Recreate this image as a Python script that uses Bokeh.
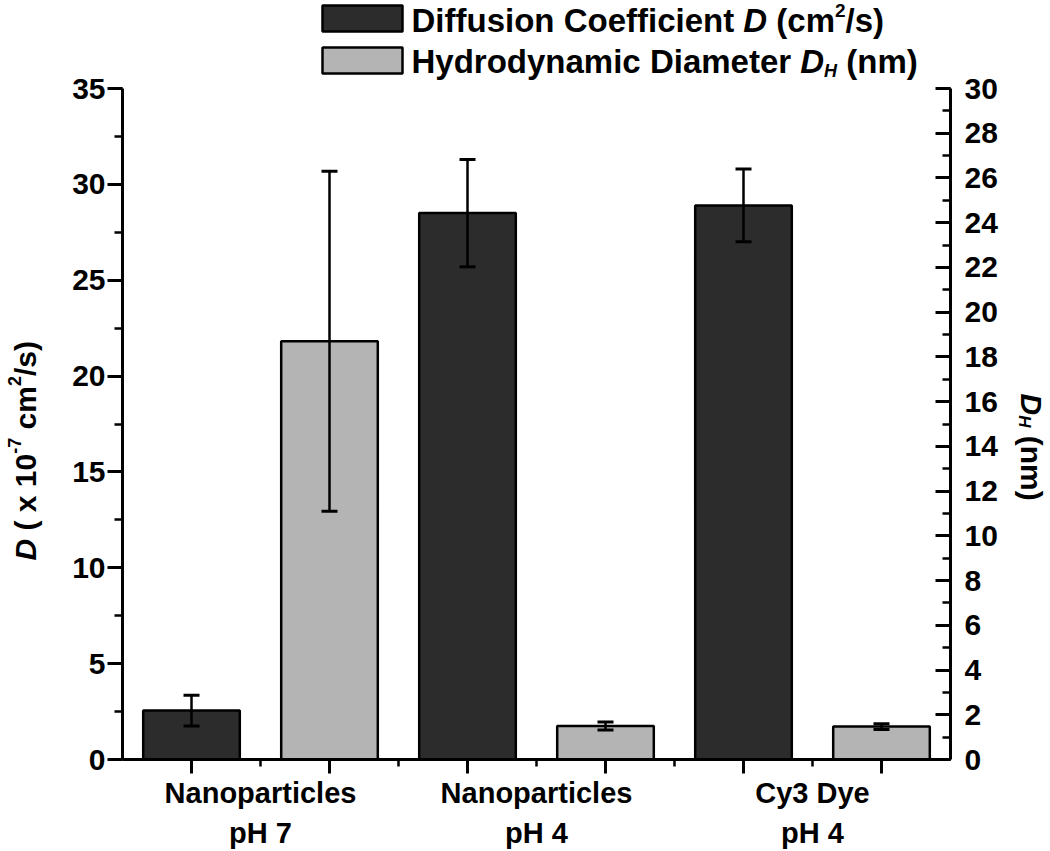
import math
from bokeh.plotting import figure
from bokeh.layouts import row, column
from bokeh.models import (Range1d, LinearAxis, FixedTicker, Whisker, TeeHead,
                          ColumnDataSource, Label)
from bokeh.embed import file_html
from bokeh.resources import INLINE

# ---------------- data ----------------
group_line1 = ["Nanoparticles", "Nanoparticles", "Cy3 Dye"]
group_line2 = ["pH 7", "pH 4", "pH 4"]
D_values = [2.55, 28.5, 28.9]          # x 10^-7 cm^2/s (left axis)
D_errors = [0.8, 2.8, 1.9]
DH_values = [18.7, 1.5, 1.47]          # nm (right axis)
DH_errors = [7.6, 0.18, 0.13]
left_ticks = [0, 5, 10, 15, 20, 25, 30, 35]
left_minor = [2.5 * i for i in range(15)]
right_ticks = list(range(0, 31, 2))
right_minor = list(range(0, 31, 1))

FONT = "Liberation Sans"
DARK = "#2c2c2c"
LIGHT = "#b4b4b4"

# ---------------- layout constants (page pixels) ----------------
TOTAL_W, TOTAL_H = 1050, 851
LEFT_W = 68            # strip holding the left axis title
RIGHT_W = 50           # strip holding the right axis title
MAIN_W = TOTAL_W - LEFT_W - RIGHT_W
FRAME_L, FRAME_R = 122, 950      # page x of the plot frame
FRAME_T, FRAME_B = 0, 759        # page y of the plot frame
Y_TOP_TICK = 88                  # page y of 35 (left) / 30 (right)
MAIN_H = FRAME_B + 16
BOTTOM_H = TOTAL_H - MAIN_H
X0, X1 = 0.5, 6.5
Y_END = 35 * (FRAME_B - FRAME_T) / (FRAME_B - Y_TOP_TICK)
Y2_END = 30 * (FRAME_B - FRAME_T) / (FRAME_B - Y_TOP_TICK)
BASE_FIX = 0.36        # em: label anchor -> alphabetic baseline correction


def dx(px):
    return X0 + (px - FRAME_L) * (X1 - X0) / (FRAME_R - FRAME_L)


def dy(py):
    return (FRAME_B - py) * Y_END / (FRAME_B - FRAME_T)


# Liberation Sans Bold advance widths (1/1000 em)
WID = {' ': 278, '(': 333, ')': 333, '/': 278, '-': 333, 'A': 722, 'C': 722,
       'D': 722, 'H': 722, 'N': 722, 'a': 556, 'c': 556, 'd': 611, 'e': 556,
       'f': 333, 'i': 278, 'l': 278, 'm': 889, 'n': 611, 'o': 611, 'p': 611,
       'r': 389, 's': 556, 't': 333, 'u': 611, 'x': 556, 'y': 556}


def tw(s, size):
    return sum(WID.get(c, 556) for c in s) * size / 1000.0


def label(fig, text, x, y, size, style="bold", angle=0.0, xo=0.0, yo=0.0, align="left"):
    fig.add_layout(Label(x=x, y=y, text=text, angle=angle, x_offset=xo, y_offset=yo,
                         text_font=FONT, text_font_size=f"{size}px",
                         text_font_style=style, text_align=align,
                         text_baseline="alphabetic", text_color="black"))


def run(fig, pieces, x, y, direction):
    """pieces: (text, size, style, rise_px); direction 0 / +90 / -90 degrees."""
    adv = 0.0
    ang = math.radians(direction)
    fix = BASE_FIX * max(s for _, s, _, _ in pieces)
    for text, size, style, rise in pieces:
        body = text.strip()
        lead = tw(text[:len(text) - len(text.lstrip())], size)
        a = adv + lead
        r = rise + fix
        if direction == 0:
            xo, yo = a, r
        elif direction > 0:
            xo, yo = -r, a
        else:
            xo, yo = r, -a
        label(fig, body, x, y, size, style, ang, xo, yo)
        adv += tw(text, size)


def strip(w, h, x_range=None, border_l=0, border_r=0):
    f = figure(width=w, height=h,
               x_range=x_range if x_range is not None else Range1d(0, w),
               y_range=Range1d(0, h), output_backend="svg", toolbar_location=None,
               x_axis_type=None, y_axis_type=None, min_border=0,
               min_border_left=border_l, min_border_right=border_r)
    f.outline_line_color = None
    f.background_fill_color = "white"
    f.border_fill_color = "white"
    return f


n = len(group_line1)
dark_x = [2 * i + 1 for i in range(n)]
light_x = [2 * i + 2 for i in range(n)]
group_x = [(a + b) / 2 for a, b in zip(dark_x, light_x)]

xr = Range1d(X0, X1)
p = figure(width=MAIN_W, height=MAIN_H, x_range=xr, y_range=Range1d(0, Y_END),
           output_backend="svg", toolbar_location=None,
           min_border_left=FRAME_L - LEFT_W, min_border_right=LEFT_W + MAIN_W - FRAME_R,
           min_border_top=FRAME_T, min_border_bottom=MAIN_H - FRAME_B)
p.extra_y_ranges = {"dh": Range1d(0, Y2_END)}
p.outline_line_color = None
p.xgrid.visible = False
p.ygrid.visible = False
p.background_fill_color = "white"
p.border_fill_color = "white"

src_d = ColumnDataSource(dict(x=dark_x, top=D_values,
                              upper=[v + e for v, e in zip(D_values, D_errors)],
                              lower=[v - e for v, e in zip(D_values, D_errors)]))
src_h = ColumnDataSource(dict(x=light_x, top=DH_values,
                              upper=[v + e for v, e in zip(DH_values, DH_errors)],
                              lower=[v - e for v, e in zip(DH_values, DH_errors)]))

p.vbar(x="x", top="top", bottom=0, width=0.7, source=src_d, fill_color=DARK,
       line_color="black", line_width=2.5)
p.vbar(x="x", top="top", bottom=0, width=0.7, source=src_h, fill_color=LIGHT,
       line_color="black", line_width=2.5, y_range_name="dh")

for src, rn in ((src_d, "default"), (src_h, "dh")):
    wk = Whisker(source=src, base="x", upper="upper", lower="lower",
                 dimension="height", line_color="black", line_width=2.5,
                 upper_head=TeeHead(size=16, line_width=3, line_color="black"),
                 lower_head=TeeHead(size=16, line_width=3, line_color="black"),
                 y_range_name=rn, level="annotation")
    p.add_layout(wk)


# ---------------- axes ----------------
def style_axis(ax):
    ax.axis_line_width = 3
    ax.axis_line_color = "black"
    ax.major_tick_line_width = 3
    ax.minor_tick_line_width = 2.5
    ax.major_tick_line_color = "black"
    ax.minor_tick_line_color = "black"
    ax.major_label_text_font = FONT
    ax.major_label_text_font_style = "bold"
    ax.major_label_text_font_size = "30px"
    ax.major_label_text_color = "black"


ly = p.yaxis[0]
ly.ticker = FixedTicker(ticks=left_ticks, minor_ticks=left_minor)
ly.bounds = (0, 35)
style_axis(ly)
ly.major_tick_out = 15
ly.major_tick_in = 0
ly.minor_tick_out = 8
ly.minor_tick_in = 0
ly.major_label_standoff = 2

ry = LinearAxis(y_range_name="dh",
                ticker=FixedTicker(ticks=right_ticks, minor_ticks=right_minor),
                bounds=(0, 30))
style_axis(ry)
ry.major_tick_in = 15
ry.major_tick_out = 0
ry.minor_tick_in = 8
ry.minor_tick_out = 0
ry.major_label_standoff = 14
p.add_layout(ry, "right")

bx = p.xaxis[0]
bx.ticker = FixedTicker(ticks=dark_x + light_x,
                        minor_ticks=[x + 0.5 for x in dark_x + light_x[:-1]])
style_axis(bx)
bx.major_tick_out = 14
bx.major_tick_in = 0
bx.minor_tick_out = 7
bx.minor_tick_in = 0
bx.major_label_standoff = 0
bx.major_label_text_font_size = "1px"
bx.major_label_overrides = {x: "" for x in dark_x + light_x}

# ---------------- legend (inside the extended frame, above the axes) ----------------
p.quad(left=[dx(322), dx(322)], right=[dx(402), dx(402)],
       top=[dy(5), dy(47)], bottom=[dy(31), dy(73)],
       fill_color=[DARK, LIGHT], line_color="black", line_width=2.5)
run(p, [("Diffusion Coefficient ", 33, "bold", 0), ("D", 33, "bold italic", 0),
        (" (cm", 33, "bold", 0), ("2", 19, "bold", 10), ("/s)", 33, "bold", 0)],
    dx(411), dy(32), 0)
run(p, [("Hydrodynamic Diameter ", 33, "bold", 0), ("D", 33, "bold italic", 0),
        ("H", 18, "bold italic", -9), (" (nm)", 33, "bold", 0)],
    dx(411), dy(73), 0)

# ---------------- bottom strip: category labels ----------------
bottom = strip(MAIN_W, BOTTOM_H, x_range=xr, border_l=FRAME_L - LEFT_W,
               border_r=LEFT_W + MAIN_W - FRAME_R)
for gx, l1, l2 in zip(group_x, group_line1, group_line2):
    label(bottom, l1, gx, TOTAL_H - 803, 29, yo=BASE_FIX * 29, align="center")
    label(bottom, l2, gx, TOTAL_H - 843, 29, yo=BASE_FIX * 29, align="center")

# ---------------- left strip: left axis title ----------------
left = strip(LEFT_W, TOTAL_H)
run(left, [("D", 30, "bold italic", 0), (" ( x 10", 30, "bold", 0), ("-7", 18, "bold", 11),
           (" cm", 30, "bold", 0), ("2", 18, "bold", 11), ("/s)", 30, "bold", 0)],
    36, TOTAL_H - 560, 90)

# ---------------- right strip: right axis title ----------------
right = strip(RIGHT_W, TOTAL_H)
run(right, [("D", 30, "bold italic", 0), ("H", 17, "bold italic", -7),
            (" (nm)", 30, "bold", 0)], 20, TOTAL_H - 393, -90)

layout = row(left, column(p, bottom), right)
open("out.html", "w").write(file_html(layout, INLINE))
